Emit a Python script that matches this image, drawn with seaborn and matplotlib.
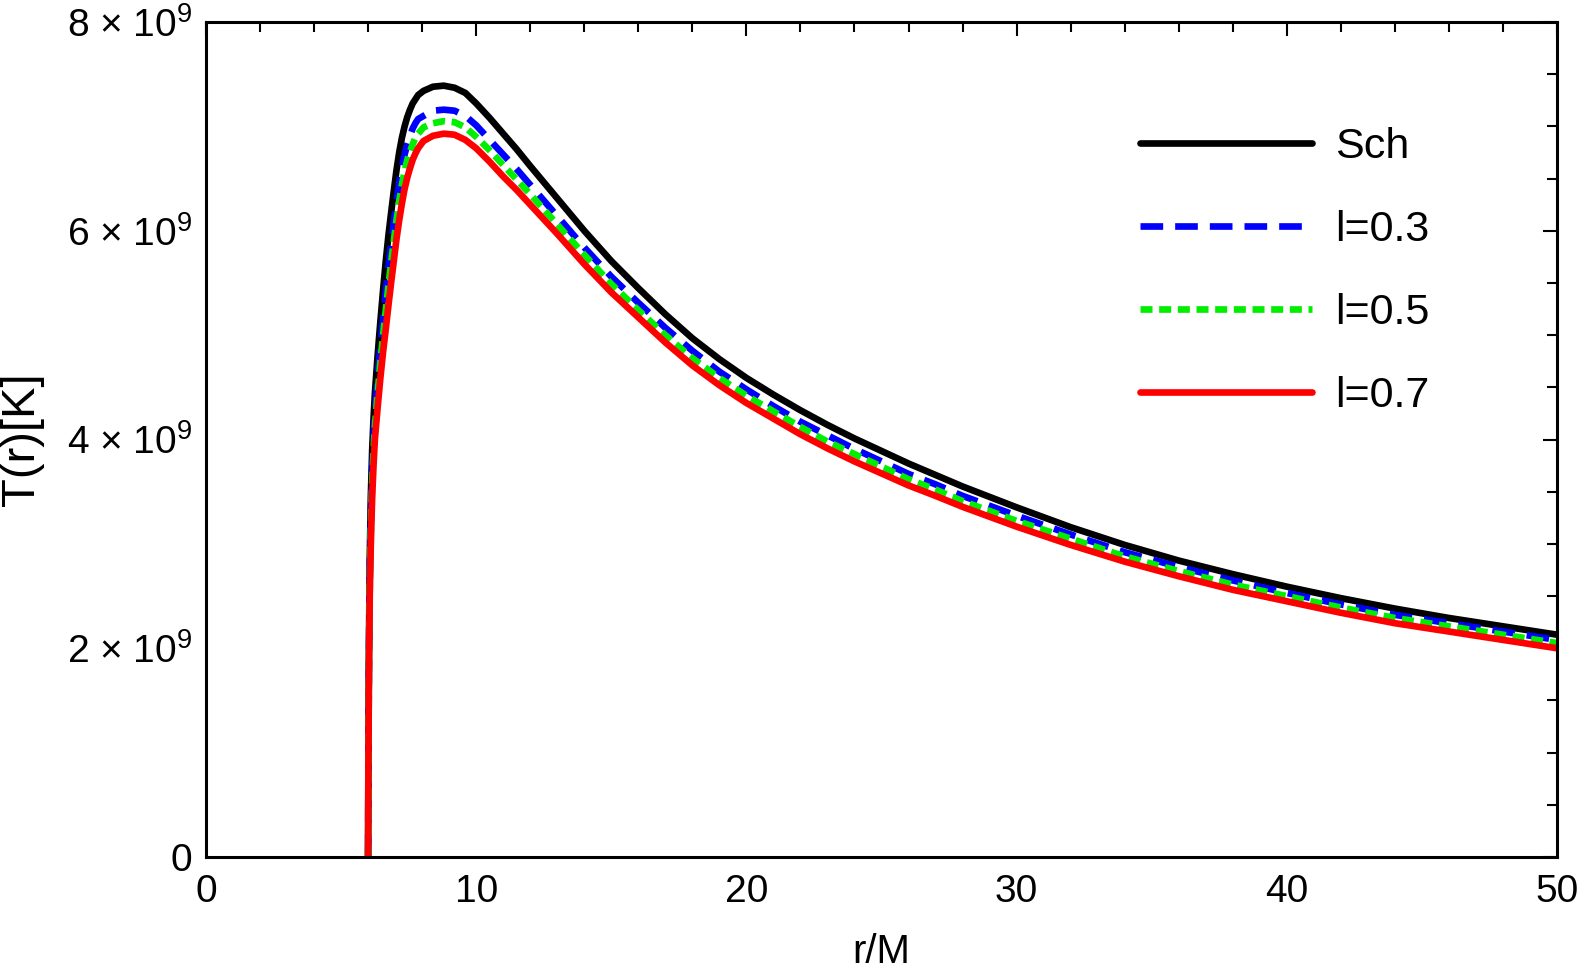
import pandas as pd
import matplotlib
matplotlib.use("Agg")
import matplotlib.pyplot as plt
from matplotlib.ticker import MultipleLocator
import seaborn as sns

# radius grid r/M and temperature readings (units of 1e9 K)
r_vals = [6.0, 6.01, 6.03, 6.06, 6.1, 6.15, 6.2, 6.25, 6.35, 6.45, 6.55, 6.65, 6.75,
          6.85, 6.95, 7.05, 7.15, 7.25, 7.35, 7.45, 7.55, 7.65, 7.75, 7.85, 8.05, 8.4,
          8.8, 9.2, 9.6, 10, 10.5, 11, 11.5, 12, 13, 14, 15, 16, 17, 18, 19, 20, 21,
          22, 23, 24, 25, 26, 27, 28, 30, 32, 34, 36, 38, 40, 42, 44, 46, 48, 50]

T_sch = [0.0, 1.0, 2.0, 2.85, 3.45, 3.9, 4.2, 4.44, 4.80, 5.12, 5.42, 5.70, 5.95,
         6.17, 6.38, 6.58, 6.75, 6.89, 7.00, 7.09, 7.16, 7.22, 7.26, 7.30, 7.34, 7.38,
         7.39, 7.37, 7.32, 7.22, 7.08, 6.93, 6.78, 6.62, 6.31, 6.00, 5.71, 5.45, 5.20,
         4.97, 4.77, 4.59, 4.43, 4.28, 4.14, 4.01, 3.89, 3.77, 3.66, 3.55, 3.35, 3.16,
         2.99, 2.84, 2.71, 2.59, 2.48, 2.38, 2.29, 2.21, 2.13]

T_03 = [0.0, 0.93, 1.89, 2.69, 3.25, 3.70, 4.00, 4.24, 4.58, 4.88, 5.15, 5.41, 5.65,
        5.87, 6.08, 6.28, 6.46, 6.61, 6.73, 6.83, 6.91, 6.98, 7.03, 7.07, 7.10, 7.15,
        7.16, 7.15, 7.10, 7.01, 6.87, 6.73, 6.59, 6.44, 6.14, 5.84, 5.56, 5.31, 5.07,
        4.85, 4.65, 4.48, 4.32, 4.17, 4.04, 3.91, 3.79, 3.67, 3.57, 3.46, 3.27, 3.09,
        2.92, 2.78, 2.65, 2.53, 2.42, 2.32, 2.24, 2.16, 2.08]

T_05 = [0.0, 0.89, 1.82, 2.60, 3.13, 3.58, 3.88, 4.12, 4.44, 4.73, 4.99, 5.23, 5.47,
        5.69, 5.90, 6.10, 6.28, 6.44, 6.57, 6.68, 6.76, 6.83, 6.89, 6.93, 6.99, 7.03,
        7.05, 7.04, 6.99, 6.90, 6.77, 6.63, 6.49, 6.35, 6.06, 5.77, 5.49, 5.24, 5.00,
        4.78, 4.59, 4.42, 4.27, 4.12, 3.98, 3.86, 3.74, 3.62, 3.52, 3.41, 3.22, 3.05,
        2.88, 2.74, 2.61, 2.50, 2.39, 2.29, 2.21, 2.13, 2.05]

T_07 = [0.0, 0.85, 1.75, 2.5, 3.0, 3.45, 3.75, 4.0, 4.30, 4.58, 4.83, 5.05, 5.28,
        5.50, 5.71, 5.92, 6.10, 6.26, 6.40, 6.51, 6.60, 6.68, 6.74, 6.79, 6.86, 6.91,
        6.93, 6.92, 6.87, 6.79, 6.66, 6.52, 6.39, 6.25, 5.97, 5.68, 5.41, 5.17, 4.93,
        4.71, 4.52, 4.35, 4.20, 4.05, 3.915, 3.79, 3.675, 3.56, 3.46, 3.355, 3.165, 2.99,
        2.83, 2.69, 2.56, 2.45, 2.34, 2.24, 2.16, 2.08, 2.00]

labels = ["Sch", "l=0.3", "l=0.5", "l=0.7"]
colors = ["black", "#0000ff", "#00ee00", "#ff0000"]
styles = ["-", (0, (3.4, 1.8)), (0, (1.8, 1.0)), "-"]

sns.set_style("white")
plt.rcParams["font.family"] = ["Liberation Sans", "DejaVu Sans"]
plt.rcParams["mathtext.fontset"] = "custom"
plt.rcParams["mathtext.rm"] = "Liberation Sans"
plt.rcParams["mathtext.it"] = "Liberation Sans"
for key in ["text.color", "axes.labelcolor", "xtick.color", "ytick.color"]:
    plt.rcParams[key] = "black"

fig = plt.figure(figsize=(15.78, 9.75), dpi=100)
ax = fig.add_axes([206 / 1578, 1 - 857 / 975, 1351 / 1578, 835 / 975])

series = [T_sch, T_03, T_05, T_07]
for T, lab, col, ls in zip(series, labels, colors, styles):
    df = pd.DataFrame({"r": r_vals, "T": [t * 1e9 for t in T]})
    sns.lineplot(data=df, x="r", y="T", color=col, linewidth=4.8, linestyle=ls,
                 label=lab, ax=ax, sort=False)

ax.set_xlim(0, 50)
ax.set_ylim(0, 8e9)
ax.xaxis.set_major_locator(MultipleLocator(10))
ax.xaxis.set_minor_locator(MultipleLocator(2))
ax.set_yticks([0, 2e9, 4e9, 6e9, 8e9])
ax.set_yticklabels(["0"] + [f"{k} × 10$^{{9}}$" for k in (2, 4, 6, 8)])
ax.yaxis.set_minor_locator(MultipleLocator(0.5e9))

ax.tick_params(which="both", direction="in", top=True, right=True, labelsize=28,
               color="black", labelcolor="black", width=1.5)
ax.tick_params(which="major", length=10)
ax.tick_params(which="minor", length=7)
ax.tick_params(axis="x", which="major", pad=12)
ax.tick_params(axis="y", which="major", pad=10)

for sp in ax.spines.values():
    sp.set_visible(True)
    sp.set_color("black")
    sp.set_linewidth(2.2)

ax.set_xlabel("r/M", fontsize=29, labelpad=17, color="black")
ax.set_ylabel("T(r)[K]", fontsize=34, labelpad=16, color="black")

leg = ax.legend(loc="upper left", bbox_to_anchor=(0.691, 0.874), frameon=False,
                fontsize=31, handlelength=4.0, handletextpad=0.55, labelspacing=1.0,
                borderpad=0, borderaxespad=0)
for txt in leg.get_texts():
    txt.set_color("black")

fig.savefig("out.png", dpi=100)
